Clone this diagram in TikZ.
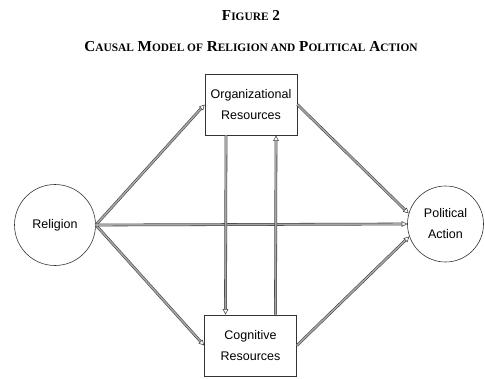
\documentclass[tikz,border=0pt]{standalone}
\usepackage{fontspec}
\setmainfont{Liberation Serif}
\newfontfamily\labelfont{Liberation Sans}
\usetikzlibrary{arrows.meta}
\newcommand\smc{\fontsize{11.4}{13}\selectfont}
\tikzset{
  box/.style={draw=black!80, line width=0.7pt, minimum width=92pt, minimum height=61pt, inner sep=0pt, align=center,
    font=\labelfont\fontsize{12.5}{21}\selectfont},
  var/.style={draw=black!80, line width=0.6pt, circle, inner sep=0pt, align=center,
    font=\labelfont\fontsize{12.5}{21}\selectfont},
  causal/.style={draw=black!75, double=black!35, double distance=1.6pt, line width=0.55pt,
    -{Triangle[open, length=5.5pt, width=5.5pt, fill=white]}},
  heading/.style={font=\bfseries\fontsize{15.2}{18}\selectfont}
}
\begin{document}
\begin{tikzpicture}[x=1pt, y=-1pt]
    \useasboundingbox (0,0) rectangle (485,378);
    \node[heading] (fig) at (251,16) {F{\smc IGURE} 2};
    \node[heading] (title) at (251,47) {C{\smc AUSAL} M{\smc ODEL OF} R{\smc ELIGION AND} P{\smc OLITICAL} A{\smc CTION}};
    \node[box] (org) at (251,104.5) {Organizational\\Resources};
    \node[box] (cog) at (250.5,345.5) {Cognitive\\Resources};
    \node[var, minimum size=81pt] (rel) at (55,225) {Religion};
    \node[var, minimum size=76pt] (pol) at (445.5,224) {Political\\Action};
    % paths from religion
    \draw[causal] (rel.east) -- (org.west);
    \draw[causal] (rel.east) -- (cog.west);
    \draw[causal] (rel.east) -- (pol.west);
    % mediators
    \draw[causal] (org.east) -- (pol.164);
    \draw[causal] (cog.east) -- (pol.199);
    \draw[causal] ([xshift=-25pt]org.south) -- ([xshift=-25pt]cog.north);
    \draw[causal] ([xshift=25pt]cog.north) -- ([xshift=25pt]org.south);
\end{tikzpicture}
\end{document}
